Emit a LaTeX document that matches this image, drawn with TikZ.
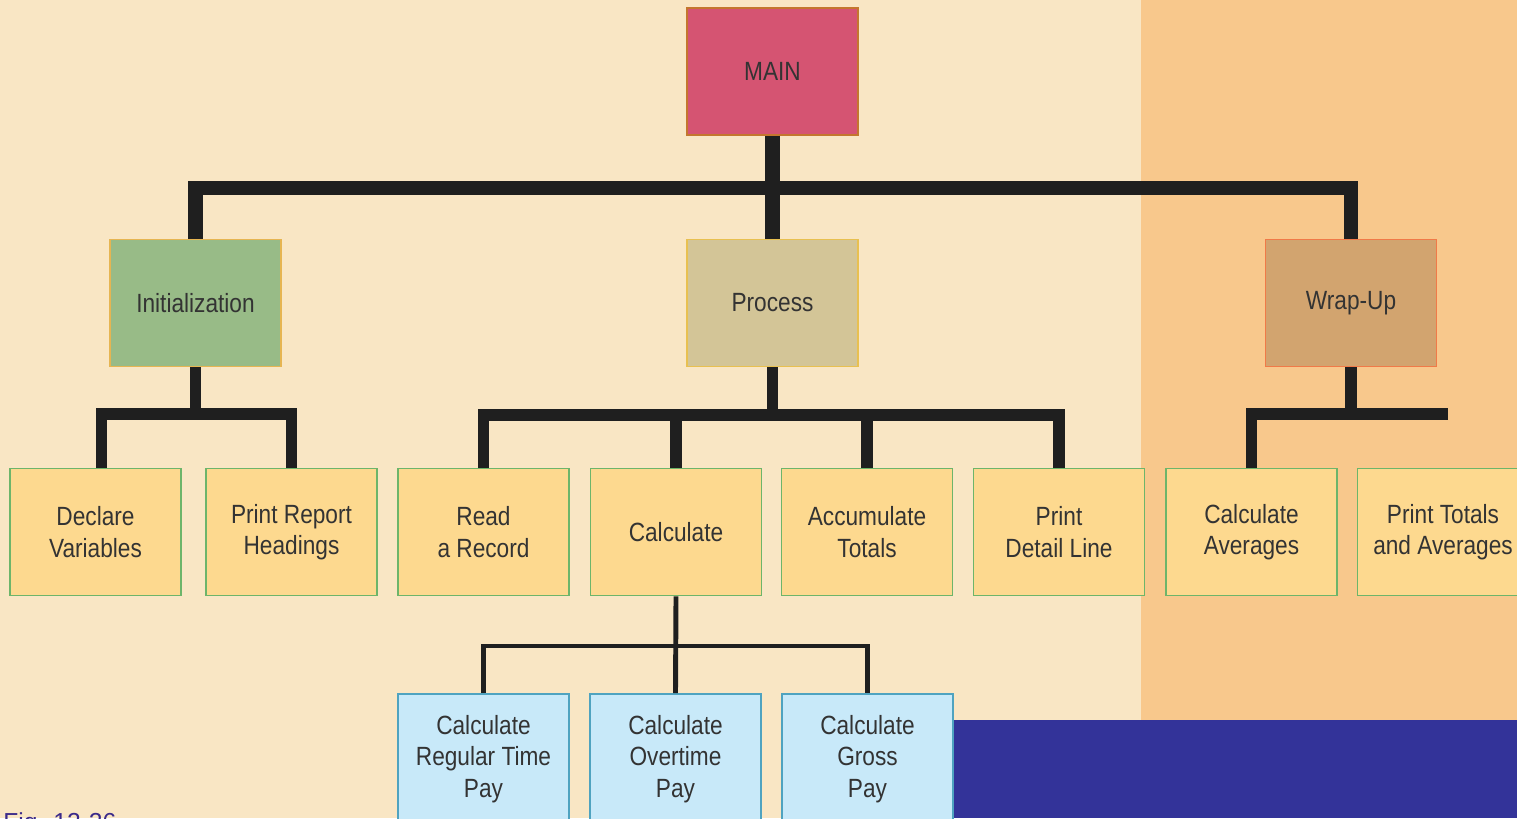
\documentclass[tikz,border=0pt]{standalone}
\usepackage{fontspec}
\newfontfamily\boxfont[FakeStretch=0.86]{Liberation Sans}
\newfontfamily\figfont{Liberation Sans}

\definecolor{creambg}{HTML}{F9E6C4}
\definecolor{orangebg}{HTML}{F8C88C}
\definecolor{navybg}{HTML}{333399}
\definecolor{mainfill}{HTML}{D55472}
\definecolor{mainline}{HTML}{C4762E}
\definecolor{initfill}{HTML}{98BB87}
\definecolor{initline}{HTML}{E6B552}
\definecolor{procfill}{HTML}{D3C597}
\definecolor{procline}{HTML}{E8C050}
\definecolor{wrapfill}{HTML}{D2A46F}
\definecolor{wrapline}{HTML}{F07A48}
\definecolor{stepfill}{HTML}{FDD98F}
\definecolor{stepline}{HTML}{6DB56A}
\definecolor{subfill}{HTML}{C8E9F9}
\definecolor{subline}{HTML}{4FA3C0}
\definecolor{labeltext}{HTML}{333333}
\definecolor{figtext}{HTML}{3B2A8A}

\begin{document}
\begin{tikzpicture}[x=0.02cm, y=-0.02cm,
  module/.style={rectangle, minimum width=3.42cm, minimum height=2.54cm,
    line width=1pt, align=center, text=labeltext,
    font=\boxfont\fontsize{15}{18}\selectfont},
  topbox/.style={module, draw=#1line, fill=#1fill},
  stepbox/.style={module, draw=stepline, fill=stepfill},
  subbox/.style={module, minimum height=2.6cm, draw=subline, fill=subfill},
  busA/.style={line width=8.5pt, color=black!88, line join=miter},
  busB/.style={line width=6.4pt, color=black!88, line join=miter},
  busC/.style={line width=2.8pt, color=black!88, line join=miter}]
  \useasboundingbox (0,0) rectangle (1517,818);
  \clip (0,0) rectangle (1517,818);

  % backdrop
  \fill[creambg] (0,0) rectangle (1517,818);
  \fill[orangebg] (1141,0) rectangle (1517,720);
  \fill[navybg] (953,720) rectangle (1517,818);

  % top level
  \node[topbox=main] (main) at (772.5,71.5) {MAIN};
  \node[topbox=init] (init) at (195.5,303) {Initialization};
  \node[topbox=proc] (process) at (772.5,303) {Process};
  \node[topbox=wrap] (wrapup) at (1351,303) {Wrap-Up};

  % second level
  \node[stepbox] (declare) at (95.5,532) {Declare\\Variables};
  \node[stepbox] (headings) at (291.5,532) {Print Report\\Headings};
  \node[stepbox] (read) at (483.5,532) {Read\\a Record};
  \node[stepbox] (calc) at (676,532) {Calculate};
  \node[stepbox] (accum) at (867,532) {Accumulate\\Totals};
  \node[stepbox] (detail) at (1059,532) {Print\\Detail Line};
  \node[stepbox] (avg) at (1251.5,532) {Calculate\\Averages};
  \node[stepbox] (totals) at (1443,532) {Print Totals\\and Averages};

  % third level
  \node[subbox] (regular) at (483.5,759) {Calculate\\Regular Time\\Pay};
  \node[subbox] (overtime) at (675.5,759) {Calculate\\Overtime\\Pay};
  \node[subbox] (gross) at (867.5,759) {Calculate\\Gross\\Pay};

  % bus junctions
  \coordinate (hubA) at (772.5,188);
  \coordinate (hubI) at (195.5,414);
  \coordinate (hubP) at (772.5,415);
  \coordinate (hubW) at (1448,414);
  \coordinate (hubC) at (676,646);

  % connectors
  \draw[busA] (main.south) -- (process.north);
  \draw[busA] (init.north) |- (hubA) -| (wrapup.north);
  \draw[busB] (init.south) -- (hubI);
  \draw[busB] ([xshift=3.5]declare.north) |- (hubI) -| (headings.north);
  \draw[busB] (process.south) -- (hubP);
  \draw[busB] (read.north) |- (hubP) -| (detail.north);
  \draw[busB] (calc.north) -- (calc.north |- hubP);
  \draw[busB] (accum.north) -- (accum.north |- hubP);
  \draw[busB] (wrapup.south) -- (wrapup.south |- hubW);
  \draw[busB] (avg.north) |- (hubW);
  \draw[busC] (calc.south) -- (overtime.north);
  \draw[busC] (regular.north) |- (hubC) -| (gross.north);

  \node[anchor=base west, inner sep=0pt, text=figtext,
    font=\figfont\fontsize{14}{16}\selectfont] (figlabel) at (3,830) {Fig. 12-26};
\end{tikzpicture}
\end{document}
